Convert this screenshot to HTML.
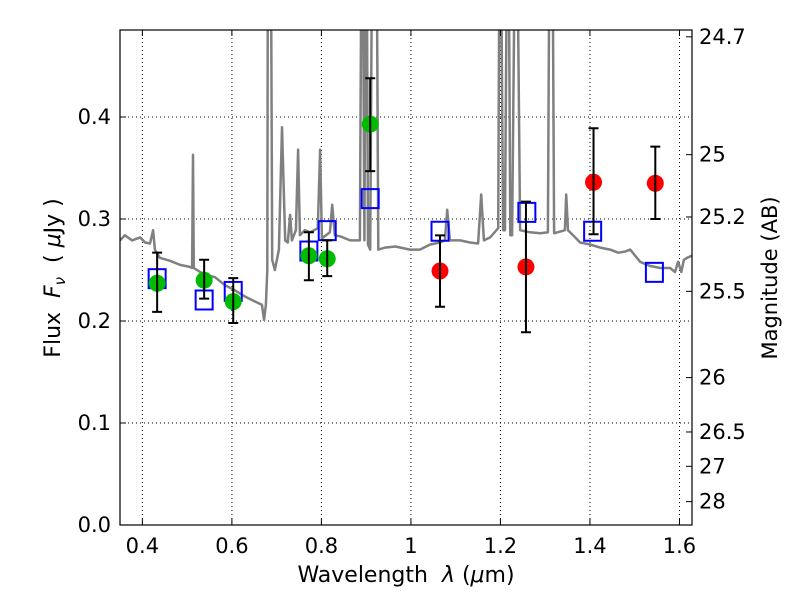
<!DOCTYPE html>
<html><head><meta charset="utf-8"><style>
body{margin:0;background:#fff;}
svg{display:block;font-family:"DejaVu Sans","Liberation Sans",sans-serif;}
</style></head><body>
<svg id="chart" width="800" height="600" viewBox="0 0 800 600" xmlns="http://www.w3.org/2000/svg">
<rect width="800" height="600" fill="#fff"/>
<defs><clipPath id="clip"><rect x="120" y="30" width="572" height="495"/></clipPath></defs>
<g id="grid"></g>
<g id="spec" clip-path="url(#clip)"></g>
<g id="marks" clip-path="url(#clip)"></g>
<rect x="120" y="30" width="572" height="495" fill="none" stroke="#000" stroke-width="1.2"/>
<g id="axes"></g>
<text x="406" y="582" font-size="22" text-anchor="middle">Wavelength&#160;&#160;<tspan font-style="italic">λ</tspan> (<tspan font-style="italic">μ</tspan>m)</text>
<text transform="translate(60,278) rotate(-90)" font-size="22" text-anchor="middle">Flux&#160;&#160;<tspan font-style="italic">F</tspan><tspan font-style="italic" font-size="15" dy="5">ν</tspan><tspan dy="-5">&#160;&#160;(&#160;</tspan><tspan font-style="italic">μ</tspan>Jy )</text>
<text transform="translate(777,278) rotate(-90)" font-size="21" text-anchor="middle">Magnitude (AB)</text>
</svg>
<script>
const specWave=[0.350,0.361,0.377,0.395,0.406,0.417,0.424,0.428,0.439,0.462,0.484,0.506,0.511,0.513,0.515,0.529,0.551,0.562,0.585,0.607,0.629,0.652,0.667,0.672,0.676,0.679,0.681,0.686,0.690,0.696,0.705,0.712,0.719,0.725,0.730,0.734,0.743,0.748,0.752,0.763,0.775,0.792,0.797,0.801,0.819,0.824,0.830,0.842,0.864,0.886,0.891,0.896,0.900,0.904,0.909,0.915,0.922,0.927,0.942,0.965,0.998,1.020,1.043,1.065,1.076,1.081,1.087,1.110,1.132,1.150,1.157,1.163,1.177,1.195,1.199,1.206,1.210,1.217,1.222,1.226,1.235,1.244,1.266,1.289,1.306,1.311,1.315,1.320,1.344,1.347,1.351,1.367,1.378,1.400,1.423,1.445,1.463,1.478,1.490,1.512,1.534,1.557,1.579,1.590,1.597,1.604,1.610,1.617,1.628];
const specFlux=[0.279,0.284,0.279,0.282,0.277,0.276,0.289,0.270,0.262,0.259,0.255,0.253,0.252,0.363,0.252,0.248,0.244,0.243,0.235,0.230,0.224,0.219,0.216,0.201,0.216,0.25,0.70,0.70,0.260,0.250,0.270,0.390,0.279,0.277,0.304,0.279,0.289,0.368,0.284,0.289,0.287,0.291,0.368,0.281,0.287,0.314,0.284,0.283,0.279,0.279,0.70,0.279,0.70,0.275,0.270,0.70,0.70,0.270,0.272,0.273,0.270,0.270,0.275,0.277,0.279,0.309,0.279,0.279,0.277,0.276,0.324,0.279,0.282,0.291,0.70,0.289,0.289,0.70,0.284,0.284,0.70,0.289,0.287,0.286,0.287,0.70,0.70,0.286,0.289,0.324,0.289,0.282,0.277,0.275,0.272,0.270,0.267,0.268,0.270,0.258,0.254,0.252,0.252,0.248,0.258,0.248,0.260,0.262,0.264];
const greenWave=[0.433,0.538,0.603,0.772,0.813,0.909];
const greenFlux=[0.237,0.240,0.219,0.264,0.261,0.393];
const greenLo=[0.209,0.222,0.198,0.240,0.244,0.347];
const greenHi=[0.267,0.260,0.242,0.287,0.279,0.438];
const redWave=[1.065,1.257,1.408,1.546];
const redFlux=[0.249,0.253,0.336,0.335];
const redLo=[0.214,0.189,0.285,0.300];
const redHi=[0.284,0.317,0.389,0.371];
const modelWave=[0.433,0.538,0.603,0.772,0.813,0.909,1.065,1.259,1.406,1.544];
const modelFlux=[0.2415,0.2206,0.229,0.2686,0.2886,0.320,0.288,0.3065,0.288,0.2477];
const xTicks=[0.4,0.6,0.8,1.0,1.2,1.4,1.6];
const xTickLabels=["0.4","0.6","0.8","1","1.2","1.4","1.6"];
const yTicks=[0,0.1,0.2,0.3,0.4];
const yTickLabels=["0.0","0.1","0.2","0.3","0.4"];
const magTicks=[24.7,25,25.2,25.5,26,26.5,27,28];
const magTickLabels=["24.7","25","25.2","25.5","26","26.5","27","28"];

const X0=120,X1=692,Y0=525,Y1=30,xmin=0.35,xmax=1.628,ymin=0,ymax=0.4853;
const sx=v=>X0+(v-xmin)/(xmax-xmin)*(X1-X0);
const sy=v=>Y0-(v-ymin)/(ymax-ymin)*(Y0-Y1);
const NS="http://www.w3.org/2000/svg";
function mk(tag,attrs,parent){const e=document.createElementNS(NS,tag);for(const k in attrs)e.setAttribute(k,attrs[k]);parent.appendChild(e);return e;}
const grid=document.getElementById('grid'),spec=document.getElementById('spec'),marks=document.getElementById('marks'),axes=document.getElementById('axes');

xTicks.forEach((t,i)=>{
  const x=sx(t);
  const g=mk('line',{x1:x,x2:x,y1:Y1,y2:Y0,stroke:'#000','stroke-width':1,'stroke-dasharray':'1,3'},grid);
  
  
  const a=mk('line',{x1:x,x2:x,y1:Y0,y2:Y0-6,stroke:'#000'},axes);
  
  
  const b=mk('line',{x1:x,x2:x,y1:Y1,y2:Y1+6,stroke:'#000'},axes);
  
  
  const l=mk('text',{x:x,y:553,'font-size':21,'text-anchor':'middle'},axes);
  l.textContent=xTickLabels[i];
  
  
});
yTicks.forEach((t,i)=>{
  const y=sy(t);
  const g=mk('line',{x1:X0,x2:X1,y1:y,y2:y,stroke:'#000','stroke-width':1,'stroke-dasharray':'1,3'},grid);
  
  
  const a=mk('line',{x1:X0,x2:X0+6,y1:y,y2:y,stroke:'#000'},axes);
  
  
  const l=mk('text',{x:111,y:y+7,'font-size':21,'text-anchor':'end'},axes);
  l.textContent=yTickLabels[i];
  
  
});
magTicks.forEach((m,i)=>{
  const y=sy(Math.pow(10,(23.9-m)/2.5));
  const a=mk('line',{x1:X1,x2:X1-6,y1:y,y2:y,stroke:'#000'},axes);
  
  
  const l=mk('text',{x:699,y:y+7,'font-size':21,'text-anchor':'start'},axes);
  l.textContent=magTickLabels[i];
  
  
});
const d=specWave.map((w,i)=>(i?'L':'M')+sx(w).toFixed(1)+','+sy(specFlux[i]).toFixed(1)).join('');
const p=mk('path',{d:d,fill:'none',stroke:'#808080','stroke-width':2.5,'stroke-linejoin':'round'},spec);



modelWave.forEach((w,i)=>{
  const r=mk('rect',{x:sx(w)-8.5,y:sy(modelFlux[i])-9.5,width:17,height:19,fill:'none',stroke:'#0000ff','stroke-width':2},marks);
  
  
});
function pts(W,F,L,H,col,name){
  W.forEach((w,i)=>{
    const x=sx(w);
    const c=mk('circle',{cx:x,cy:sy(F[i]),r:8.5,fill:col},marks);
    
    
    const e=mk('path',{d:`M${x},${sy(L[i])}L${x},${sy(H[i])}M${x-5},${sy(L[i])}L${x+5},${sy(L[i])}M${x-5},${sy(H[i])}L${x+5},${sy(H[i])}`,stroke:'#000','stroke-width':2,fill:'none'},marks);
    
    
  });
}
pts(greenWave,greenFlux,greenLo,greenHi,'#00bb00','green-photometry-point');
pts(redWave,redFlux,redLo,redHi,'#ff0000','red-photometry-point');
</script>
</body></html>
